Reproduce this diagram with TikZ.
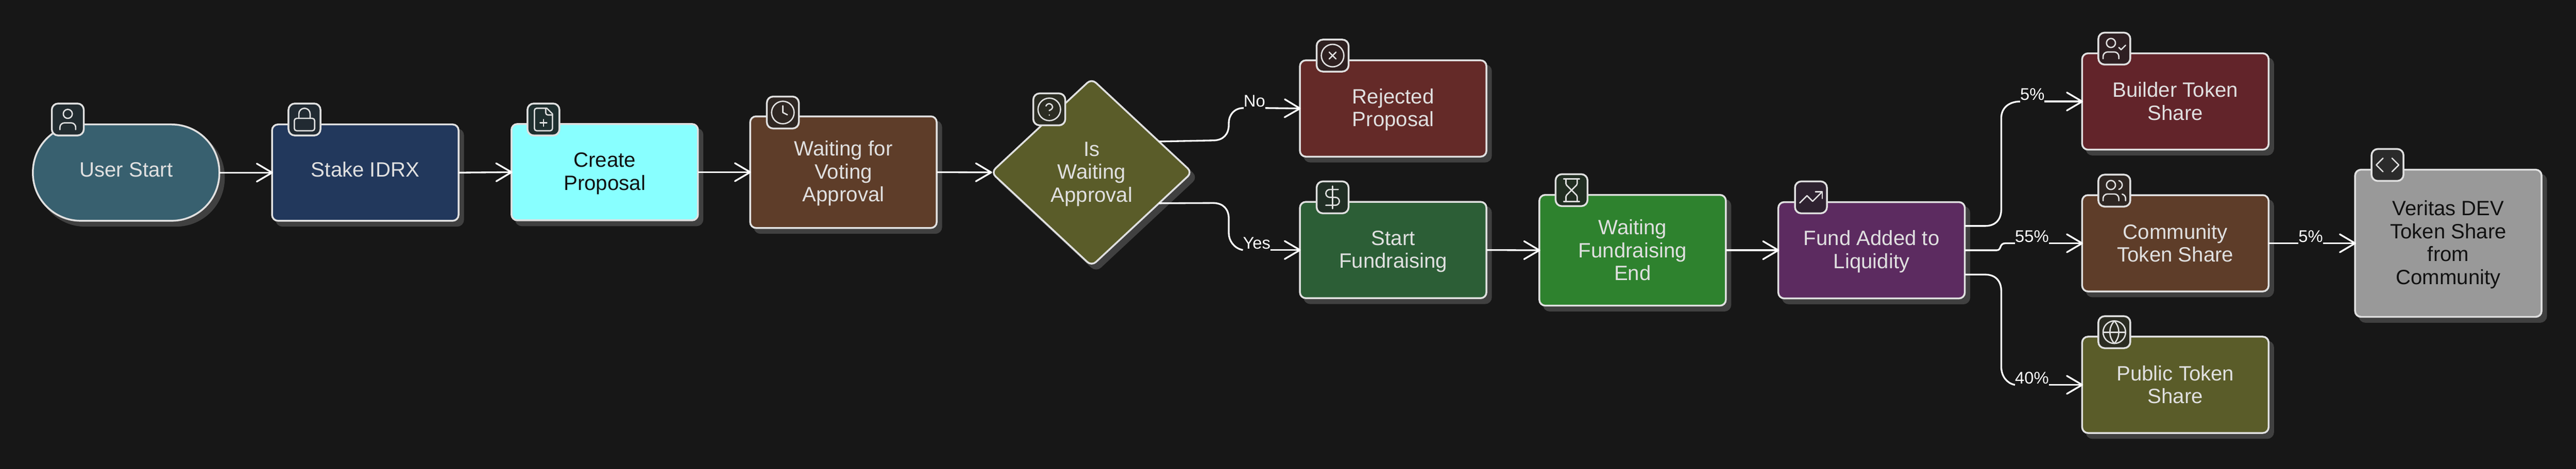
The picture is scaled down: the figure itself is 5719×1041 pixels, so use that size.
\documentclass[tikz,border=0pt]{standalone}
\usepackage{fontspec}
\setmainfont{Liberation Sans}
\usetikzlibrary{shapes.geometric,arrows.meta,calc,shadows}
\definecolor{bgc}{HTML}{171717}
\definecolor{shc}{HTML}{404040}
\definecolor{bd}{HTML}{E0E0E0}
\definecolor{cteal}{HTML}{38606F}
\definecolor{cnavy}{HTML}{22385C}
\definecolor{ccyan}{HTML}{88FFFF}
\definecolor{cbrown}{HTML}{5E3D29}
\definecolor{colive}{HTML}{5A5C29}
\definecolor{cred}{HTML}{642A28}
\definecolor{cgreen}{HTML}{2C5E36}
\definecolor{cgrass}{HTML}{2E822E}
\definecolor{cpurple}{HTML}{5C2B60}
\definecolor{cwine}{HTML}{62242A}
\definecolor{cgrey}{HTML}{999999}
\definecolor{ctxt}{HTML}{111111}
\definecolor{iteal}{HTML}{222C30}
\definecolor{inavy}{HTML}{212A32}
\definecolor{icyan}{HTML}{1F2F2F}
\definecolor{ibrown}{HTML}{2E2622}
\definecolor{iolive}{HTML}{2B2C22}
\definecolor{ired}{HTML}{2E2020}
\definecolor{igreen}{HTML}{212E25}
\definecolor{igrass}{HTML}{212E22}
\definecolor{ipurple}{HTML}{2E2230}
\definecolor{iwine}{HTML}{2E1F22}
\definecolor{igrey}{HTML}{2B2B2B}
\newcommand{\hb}{\rule{0pt}{39pt}}
\newcommand{\db}{\rule[-7pt]{0pt}{7pt}}
\newcommand{\sln}[1]{\rule{0pt}{40pt}#1\rule[-22pt]{0pt}{22pt}}
\tikzset{
  box/.style={rectangle,draw=bd,line width=4pt,rounded corners=13pt,minimum width=414pt,minimum height=214pt,
    inner sep=0pt,outer sep=0pt,text=bd,align=center,font=\fontsize{46pt}{51pt}\selectfont,
    drop shadow={shadow xshift=10pt,shadow yshift=-11pt,fill=shc,draw=shc,opacity=1}},
  darktext/.style={text=ctxt},
  iconbox/.style={rectangle,draw=bd,line width=4pt,rounded corners=14pt,minimum width=71pt,minimum height=71pt,inner sep=0pt,outer sep=0pt},
  ed/.style={draw=white,line width=3.8pt},
  arr/.style={ed,shorten >=-2pt,-{Straight Barb[length=34pt,width=40pt,round]}},
  elabel/.style={inner sep=0pt,outer sep=0pt,text=white,font=\fontsize{37.5pt}{40pt}\selectfont,text height=28pt,text depth=33pt},
  ico/.style={draw=bd,line width=3pt,line cap=round,line join=round,x=2.5pt,y=-2.5pt,shift={(-12,-12)}},
  pics/iuser/.style={code={\begin{scope}[ico]
    \draw (12,7) circle (4);
    \draw[rounded corners=10pt] (5,21)--(5,15)--(19,15)--(19,21);\end{scope}}},
  pics/ilock/.style={code={\begin{scope}[ico]
    \draw[rounded corners=5pt] (3,11) rectangle (21,22);
    \draw (7,11)--(7,7) arc[start angle=180,end angle=360,radius=5]--(17,11);\end{scope}}},
  pics/ifile/.style={code={\begin{scope}[ico]
    \draw (15,2)[rounded corners=5pt]--(4,2)--(4,22)--(20,22)[sharp corners]--(20,7)--cycle;
    \draw[rounded corners=5pt] (14,2)--(14,8)--(20,8);
    \draw (9,15)--(15,15) (12,18)--(12,12);\end{scope}}},
  pics/iclock/.style={code={\begin{scope}[ico]
    \draw (12,12) circle (10);
    \draw (12,6)--(12,12)--(16,14);\end{scope}}},
  pics/ihelp/.style={code={\begin{scope}[ico]
    \draw (12,12) circle (10);
    \draw (9.09,9) arc[start angle=199,end angle=360,radius=3] .. controls (14.92,12) and (11.92,13) .. (11.92,13);
    \draw (12,17)--(12.01,17);\end{scope}}},
  pics/ixc/.style={code={\begin{scope}[ico]
    \draw (12,12) circle (10);
    \draw (15,9)--(9,15) (9,9)--(15,15);\end{scope}}},
  pics/idollar/.style={code={\begin{scope}[ico]
    \draw (12,2)--(12,22);
    \draw (17,5)--(9.5,5) arc[start angle=270,end angle=90,radius=3.5]--(14.5,12) arc[start angle=270,end angle=450,radius=3.5]--(6,19);\end{scope}}},
  pics/ihour/.style={code={\begin{scope}[ico]
    \draw (5,22)--(19,22) (5,2)--(19,2);
    \draw (17,22)--(17,17.83)--(16.41,16.41)--(12,12)--(7.59,16.41)--(7,17.83)--(7,22);
    \draw (7,2)--(7,6.17)--(7.59,7.59)--(12,12)--(16.41,7.59)--(17,6.17)--(17,2);\end{scope}}},
  pics/itrend/.style={code={\begin{scope}[ico]
    \draw (22,7)--(13.5,15.5)--(8.5,10.5)--(2,17);
    \draw (16,7)--(22,7)--(22,13);\end{scope}}},
  pics/iucheck/.style={code={\begin{scope}[ico]
    \draw[rounded corners=10pt] (2,21)--(2,15)--(16,15)--(16,21);
    \draw (9,7) circle (4);
    \draw (16,11)--(18,13)--(22,9);\end{scope}}},
  pics/iusers/.style={code={\begin{scope}[ico]
    \draw[rounded corners=10pt] (2,21)--(2,15)--(16,15)--(16,21);
    \draw (9,7) circle (4);
    \draw (22,21)--(22,19) .. controls (22,17.2) and (20.8,15.6) .. (19,15.13);
    \draw (16,3.13) .. controls (17.8,3.6) and (19,5.2) .. (19,7) .. controls (19,8.8) and (17.8,10.4) .. (16,10.88);\end{scope}}},
  pics/iglobe/.style={code={\begin{scope}[ico]
    \draw (12,12) circle (10);
    \draw (12,2) .. controls (6.7,8) and (6.7,16) .. (12,22) .. controls (17.3,16) and (17.3,8) .. (12,2);
    \draw (2,12)--(22,12);\end{scope}}},
  pics/icode/.style={code={\begin{scope}[ico]
    \draw (16,18)--(22,12)--(16,6);
    \draw (8,6)--(2,12)--(8,18);\end{scope}}},
}
\begin{document}
\begin{tikzpicture}[x=1pt,y=-1pt]
\path[use as bounding box] (0,0) rectangle (5719,1041);
\fill[bgc] (-10,-10) rectangle (5729,1051);
% main nodes
\node[box,fill=cteal,rounded corners=106pt] (user) at (280,383.5) {\sln{User Start}};
\node[box,fill=cnavy] (stake) at (811,383.5) {\sln{Stake IDRX}};
\node[box,fill=ccyan,darktext] (create) at (1342.5,382.5) {\hb Create\\Proposal\db};
\node[box,fill=cbrown,minimum height=248pt] (waitv) at (1872.5,382.5) {\hb Waiting for\\Voting\\Approval\db};
\node[diamond,aspect=1.07,draw=bd,fill=colive,line width=4pt,rounded corners=13pt,minimum width=446pt,minimum height=416pt,inner sep=0pt,outer sep=0pt,text=bd,align=center,font=\fontsize{46pt}{51pt}\selectfont,drop shadow={shadow xshift=10pt,shadow yshift=-11pt,fill=shc,draw=shc,opacity=1}] (dia) at (2423.5,383) {\hb Is\\Waiting\\Approval\db};
\node[box,fill=cred] (rej) at (3093,241) {\hb Rejected\\Proposal\db};
\node[box,fill=cgreen] (start) at (3093,555.5) {\hb Start\\Fundraising\db};
\node[box,fill=cgrass,minimum height=246pt] (waitf) at (3624.5,556) {\hb Waiting\\Fundraising\\End\db};
\node[box,fill=cpurple] (fund) at (4155,556) {\hb Fund Added to\\Liquidity\db};
\node[box,fill=cwine] (build) at (4829.5,225.5) {\hb Builder Token\\Share\db};
\node[box,fill=cbrown] (comm) at (4829.5,540.5) {\hb Community\\Token Share\db};
\node[box,fill=colive] (pub) at (4829.5,855) {\hb Public Token\\Share\db};
\node[box,fill=cgrey,darktext,minimum height=327pt] (ver) at (5435.5,540.5) {\hb Veritas DEV\\Token Share\\from\\Community\db};
% edge labels
\node[elabel] (lno) at (2785,240) {No};
\node[elabel] (lyes) at (2790,555.5) {Yes};
\node[elabel] (lb) at (4512,225.5) {5\%};
\node[elabel] (lc) at (4511,540.5) {55\%};
\node[elabel] (lp) at (4511,855) {40\%};
\node[elabel] (lv) at (5130,540.5) {5\%};
% connectors
\draw[arr] (user.east) -- (stake.west);
\draw[arr] (stake.east) -- (create.west);
\draw[arr] (create.east) -- (waitv.west);
\draw[arr] (waitv.east) -- (dia.west);
\draw[ed] ($(dia.east)!.33!(dia.north)$) -- (2693,312) .. controls (2716,312) and (2728,298) .. (2728,277) -- (2728,274) .. controls (2728,255) and (2740,240) .. (lno.west);
\draw[arr] (lno.east) -- (rej.west);
\draw[ed] ($(dia.east)!.33!(dia.south)$) -- (2693,451) .. controls (2716,451) and (2728,465) .. (2728,486) -- (2728,518) .. controls (2728,535) and (2740,552) .. (lyes.west);
\draw[arr] (lyes.east) -- (start.west);
\draw[arr] (start.east) -- (waitf.west);
\draw[arr] (waitf.east) -- (fund.west);
\draw[ed] ($(fund.east)+(0,-54)$) -- (4407,502) .. controls (4430,502) and (4443,488) .. (4443,465) -- (4443,262) .. controls (4443,240) and (4460,225.5) .. (lb.west);
\draw[arr] (lb.east) -- (build.west);
\draw[ed] (fund.east) -- (4433,556) .. controls (4444,556) and (4438,540.5) .. (4452,540.5) -- (lc.west);
\draw[arr] (lc.east) -- (comm.west);
\draw[ed] ($(fund.east)+(0,54)$) -- (4407,610) .. controls (4430,610) and (4443,624) .. (4443,647) -- (4443,815) .. controls (4443,835) and (4455,852) .. (lp.west);
\draw[arr] (lp.east) -- (pub.west);
\draw[ed] (comm.east) -- (lv.west);
\draw[arr] (lv.east) -- (ver.west);
% icon boxes
\node[iconbox,fill=iteal] (iu) at (150.5,265.5) {};
\node[iconbox,fill=inavy] (is) at (676,265.5) {};
\node[iconbox,fill=icyan] (ic) at (1206.5,265.5) {};
\node[iconbox,fill=ibrown] (iw) at (1738,250) {};
\node[iconbox,fill=iolive] (id) at (2329.5,243) {};
\node[iconbox,fill=ired] (ir) at (2958.5,123.5) {};
\node[iconbox,fill=igreen] (ist) at (2958.5,438.5) {};
\node[iconbox,fill=igrass] (iwf) at (3489,422.5) {};
\node[iconbox,fill=ipurple] (ifd) at (4020.5,438.5) {};
\node[iconbox,fill=iwine] (ib) at (4694,108) {};
\node[iconbox,fill=ibrown] (icm) at (4694,423.5) {};
\node[iconbox,fill=iolive] (ip) at (4694,738) {};
\node[iconbox,fill=igrey] (iv) at (5300.5,366.5) {};
% icon glyphs
\pic at (iu.center) {iuser};
\pic at (is.center) {ilock};
\pic at (ic.center) {ifile};
\pic at (iw.center) {iclock};
\pic at (id.center) {ihelp};
\pic at (ir.center) {ixc};
\pic at (ist.center) {idollar};
\pic at (iwf.center) {ihour};
\pic at (ifd.center) {itrend};
\pic at (ib.center) {iucheck};
\pic at (icm.center) {iusers};
\pic at (ip.center) {iglobe};
\pic at (iv.center) {icode};
\end{tikzpicture}
\end{document}
